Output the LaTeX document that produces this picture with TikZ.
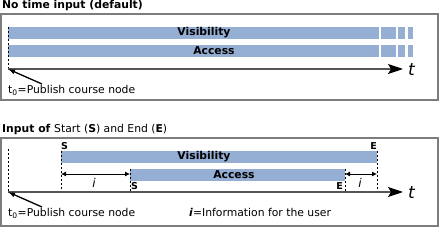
\documentclass[tikz,border=0pt]{standalone}
\usepackage{fontspec}
\setmainfont{DejaVu Sans}
\usetikzlibrary{arrows.meta, positioning}

\definecolor{barblue}{RGB}{149,175,212}
\definecolor{framegray}{RGB}{125,125,125}
\definecolor{axisgray}{RGB}{85,85,85}

\tikzset{
  frame/.style={draw=framegray, line width=1.6pt},
  bar/.style={fill=barblue},
  mark line/.style={black, line width=0.6pt, dash pattern=on 2.5pt off 1.5pt},
  time axis/.style={axisgray, line width=1.2pt, -{Stealth[length=15pt, width=10pt, inset=3pt, black]}},
  pointer/.style={black, line width=1.3pt, -{Latex[length=7pt, width=5pt]}},
  span/.style={black, line width=0.8pt, {Latex[length=5pt, width=5pt]}-{Latex[length=5pt, width=5pt]}},
  heading/.style={font=\fontsize{10.8}{12}\selectfont\bfseries},
  barlabel/.style={font=\fontsize{10.8}{12}\selectfont\bfseries},
  small/.style={font=\fontsize{10.8}{12}\selectfont},
  tag/.style={font=\fontsize{9.5}{10}\selectfont\bfseries},
  tlabel/.style={font=\fontsize{17}{17}\selectfont\itshape}
}

\begin{document}
\begin{tikzpicture}[>=latex, x=1pt, y=-1pt, every node/.style={inner sep=0pt}]
    \useasboundingbox (0,0) rectangle (440,227);

    % Ohne Zeitangabe
    \node[heading, anchor=base west] (head1) at (2,9) {No time input (default)};
    \draw[frame] (1,14) rectangle (438,100);

    \fill[bar] (8,27) rectangle (379,39);
    \fill[bar] (381,27) rectangle (396,39);
    \fill[bar] (398,27) rectangle (405,39);
    \fill[bar] (408,27) rectangle (413,39);
    \fill[bar] (8,45) rectangle (379,57);
    \fill[bar] (381,45) rectangle (396,57);
    \fill[bar] (398,45) rectangle (405,57);
    \fill[bar] (408,45) rectangle (413,57);
    \node[barlabel] (vis1) at (204,33) {Visibility};
    \node[barlabel] (acc1) at (214,51) {Access};

    \coordinate (o1) at (8,69);
    \coordinate (top1) at (8,27);
    \coordinate (end1) at (403,69);
    \draw[mark line] (top1) -- (o1);
    \draw[time axis] (o1) -- (end1);
    \node[tlabel, anchor=west] (t1) at (408,70) {t};

    \node[small, anchor=base west] (pub1) at (8,94) {t\textsubscript{0}=Publish course node};
    \coordinate (p1) at (42,84);
    \draw[pointer] (p1) -- (o1);

    % Mit Start und Ende
    \node[heading, anchor=base west] (head2) at (2,133)
        {Input of \textmd{Start (}S\textmd{) and End (}E\textmd{)}};
    \draw[frame] (1,138) rectangle (438,226);

    \fill[bar] (61,151) rectangle (377,163);
    \fill[bar] (130,169) rectangle (345,181);
    \node[barlabel] (vis2) at (204,157) {Visibility};
    \node[barlabel] (acc2) at (234,175) {Access};

    \coordinate (o2) at (8,192);
    \coordinate (end2) at (403,192);
    \coordinate (top2) at (8,149);
    \draw[mark line] (top2) -- (o2);

    \node[tag, anchor=base west] (s1) at (61,149.5) {S};
    \node[tag, anchor=base west] (s2) at (131,189.5) {S};
    \node[tag, anchor=base east] (e1) at (377,149.5) {E};
    \node[tag, anchor=base east] (e2) at (343,189.5) {E};

    \coordinate (vs) at (61,151);
    \coordinate (as) at (130,169);
    \coordinate (ve) at (377,151);
    \coordinate (ae) at (345,169);
    \draw[mark line] (vs) -- (vs |- o2);
    \draw[mark line] (as) -- (as |- o2);
    \draw[mark line] (ve) -- (ve |- o2);
    \draw[mark line] (ae) -- (ae |- o2);

    \draw[time axis] (o2) -- (end2);
    \node[tlabel, anchor=west] (t2) at (408,193) {t};

    \coordinate (i1a) at (61,174);
    \coordinate (i1b) at (130,174);
    \coordinate (i2a) at (345,174);
    \coordinate (i2b) at (377,174);
    \draw[span] (i1a) -- (i1b);
    \draw[span] (i2a) -- (i2b);
    \node[small, font=\fontsize{12}{12}\selectfont\itshape] (i1) at (94,183) {i};
    \node[small, font=\fontsize{12}{12}\selectfont\itshape] (i2) at (360,183) {i};

    \node[small, anchor=base west] (pub2) at (8,217) {t\textsubscript{0}=Publish course node};
    \coordinate (p2) at (42,207);
    \draw[pointer] (p2) -- (o2);
    \node[small, anchor=base west] (info) at (189,217) {\textbf{\textit{i}}=Information for the user};
\end{tikzpicture}
\end{document}
